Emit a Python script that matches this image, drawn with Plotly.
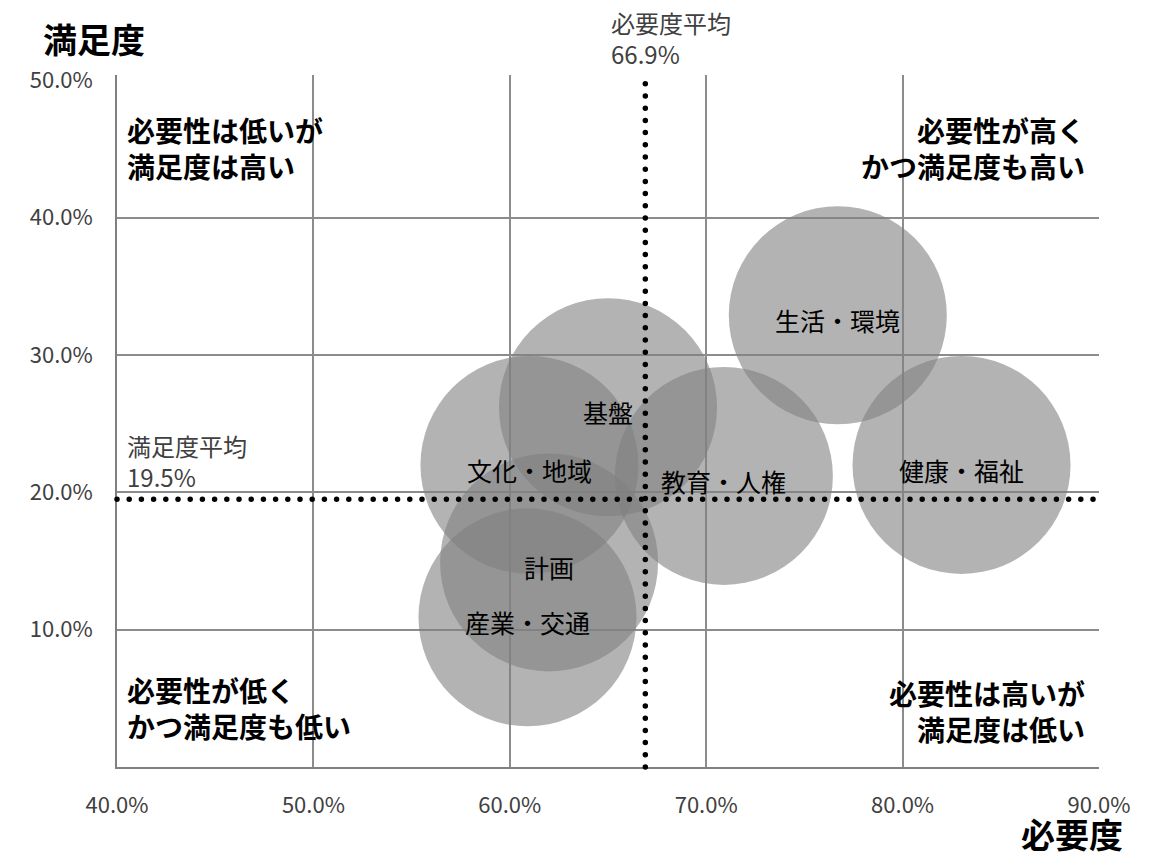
import plotly.graph_objects as go

# 分野別の必要度・満足度（%）
categories = ["生活・環境", "健康・福祉", "教育・人権", "基盤", "文化・地域", "計画", "産業・交通"]
need = [76.7, 83.0, 70.9, 65.0, 61.0, 62.0, 60.9]
satisfaction = [32.9, 22.0, 21.2, 26.2, 22.0, 14.9, 10.9]

need_mean = 66.9
satisfaction_mean = 19.5

x_ticks = [40, 50, 60, 70, 80, 90]
y_ticks = [10, 20, 30, 40, 50]
x_ticktext = [f"{v:.1f}%" for v in x_ticks]
y_ticktext = [f"{v:.1f}%" for v in y_ticks]

FONT = "Noto Sans CJK JP"
GRID = "#8c8c8c"

fig = go.Figure()

fig.add_trace(go.Scatter(
    x=need,
    y=satisfaction,
    mode="markers",
    marker=dict(size=218, sizemode="diameter", color="#808080", opacity=0.6,
                line=dict(width=0)),
    hoverinfo="skip",
    showlegend=False,
))

# 分野名（円の中央）
for name, xv, yv in zip(categories, need, satisfaction):
    fig.add_annotation(x=xv, y=yv, xref="x", yref="y", text=name,
                       showarrow=False, xanchor="center", yanchor="middle",
                       yshift=-5,
                       font=dict(family=FONT, size=25, color="#000000"))

# 平均値の点線
dot_line = dict(color="#000000", width=5.5, dash="0px,12.2px")
fig.add_shape(type="line", xref="x", yref="paper", x0=need_mean, x1=need_mean,
              y0=0, y1=1, line=dot_line, layer="above")
fig.add_shape(type="line", xref="paper", yref="y", x0=0, x1=1,
              y0=satisfaction_mean, y1=satisfaction_mean, line=dot_line, layer="above")

fig.add_annotation(x=need_mean, y=1.0, xref="x", yref="paper",
                   xanchor="left", yanchor="bottom", xshift=-36, yshift=2,
                   align="left", showarrow=False,
                   text=f"必要度平均<br>{need_mean:.1f}%",
                   font=dict(family=FONT, size=24, color="#404040"))
fig.add_annotation(x=0, y=satisfaction_mean, xref="paper", yref="y",
                   xanchor="left", yanchor="middle", xshift=8, yshift=38,
                   align="left", showarrow=False,
                   text=f"満足度平均<br>{satisfaction_mean:.1f}%",
                   font=dict(family=FONT, size=24, color="#404040"))

# 象限の説明
quad_font = dict(family=FONT, size=28, color="#000000", weight="bold")
quadrants = [
    ("必要性は低いが<br>満足度は高い", 0.0, 0.894, "left", 8),
    ("必要性が高く<br>かつ満足度も高い", 1.0, 0.894, "right", -12),
    ("必要性が低く<br>かつ満足度も低い", 0.0, 0.085, "left", 8),
    ("必要性は高いが<br>満足度は低い", 1.0, 0.081, "right", -12),
]
for text, px, py, side, shift in quadrants:
    fig.add_annotation(x=px, y=py, xref="paper", yref="paper",
                       xanchor=side, yanchor="middle", align=side, xshift=shift,
                       showarrow=False, text=text, font=quad_font)

# 軸タイトル
title_font = dict(family=FONT, size=34, color="#000000", weight="bold")
fig.add_annotation(x=0, y=1, xref="paper", yref="paper", xanchor="center",
                   yanchor="middle", xshift=-23, yshift=37, showarrow=False,
                   text="満足度", font=title_font)
fig.add_annotation(x=1, y=0, xref="paper", yref="paper", xanchor="center",
                   yanchor="middle", xshift=-27, yshift=-66, showarrow=False,
                   text="必要度", font=title_font)

axis_common = dict(
    showgrid=False,
    zeroline=False,
    showline=True,
    linecolor="#808080",
    linewidth=1.5,
    ticks="outside",
    ticklen=18,
    tickcolor="rgba(0,0,0,0)",
    tickfont=dict(family=FONT, size=22, color="#404040"),
    tickmode="array",
)

fig.update_xaxes(
    range=[40, 90],
    tickvals=x_ticks,
    ticktext=x_ticktext,
    minor=dict(tickvals=x_ticks[1:-1], showgrid=True, gridcolor=GRID,
               gridwidth=1.5, ticks=""),
    **axis_common,
)
fig.update_yaxes(
    range=[0, 50.4],
    tickvals=y_ticks,
    ticktext=y_ticktext,
    minor=dict(tickvals=y_ticks[:-1], showgrid=True, gridcolor=GRID,
               gridwidth=1.5, ticks=""),
    **axis_common,
)

fig.update_layout(
    width=1164,
    height=857,
    margin=dict(l=117, r=65, t=75, b=90),
    paper_bgcolor="#ffffff",
    plot_bgcolor="#ffffff",
    font=dict(family=FONT),
    showlegend=False,
)

round_caps = (
    "document.querySelectorAll('.shapelayer path').forEach(function(p){"
    "p.style.strokeLinecap='round';});"
)

fig.write_html("out.html", post_script=round_caps)
